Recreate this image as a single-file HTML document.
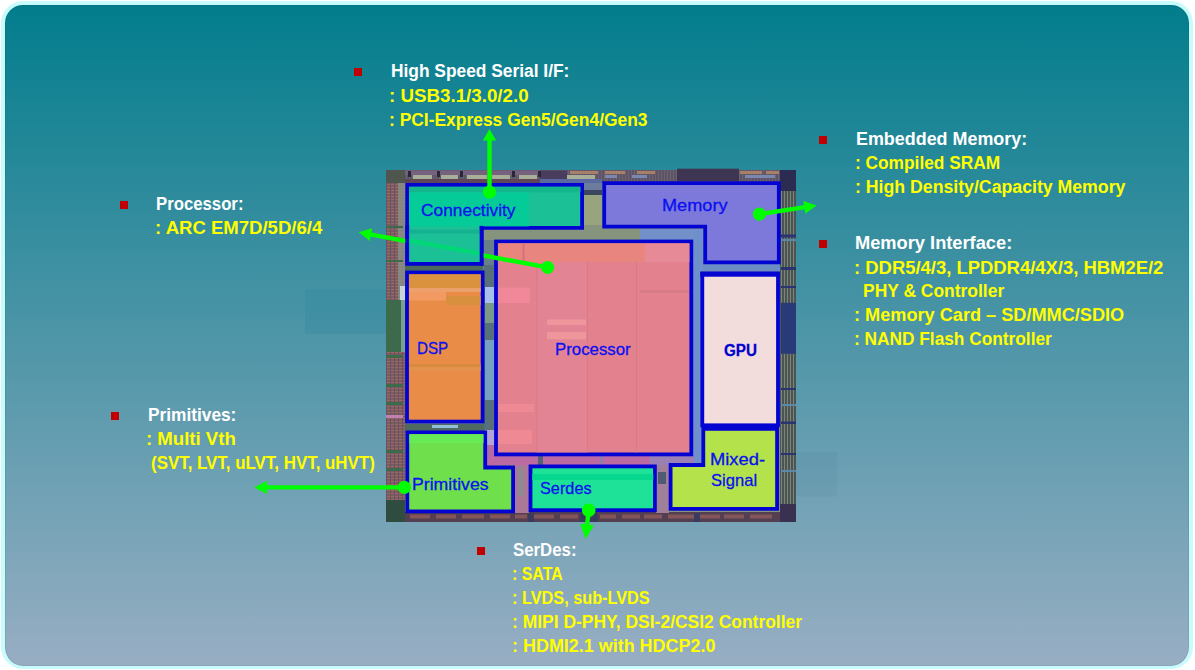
<!DOCTYPE html>
<html><head><meta charset="utf-8">
<style>
html,body{margin:0;padding:0;background:#fff;width:1195px;height:670px;overflow:hidden;}
body{position:relative;font-family:"Liberation Sans",sans-serif;}
.frame{position:absolute;left:1px;top:1px;width:1192px;height:668px;box-sizing:border-box;border:4px solid #c8fcfc;border-bottom-width:3px;border-radius:22px;box-shadow:inset 0 0 0 1px rgba(0,20,40,0.08);
background:linear-gradient(to bottom,#027d8c 0px,#98aec3 661px);}
.t{position:absolute;white-space:nowrap;font-weight:bold;font-size:18px;line-height:1;transform-origin:0 0;}
.w{color:#fff;}
.y{color:#ffff00;}
.b{position:absolute;width:8px;height:8px;background:#c00000;}
.lbl{position:absolute;white-space:nowrap;font-size:17px;line-height:1;color:#0a10f0;transform-origin:0 0;-webkit-text-stroke:0.3px #0a10f0;}
svg{position:absolute;left:0;top:0;}
</style></head>
<body>
<div class="frame"></div>

<svg width="1195" height="670" viewBox="0 0 1195 670">
  <defs>
    <pattern id="pr" x="0" y="0" width="3" height="4" patternUnits="userSpaceOnUse">
      <rect width="3" height="4" fill="#4a5456"/><rect x="1" width="1" height="4" fill="#7c8670"/>
    </pattern>
    <pattern id="pl" x="0" y="0" width="4" height="3" patternUnits="userSpaceOnUse">
      <rect width="4" height="3" fill="#7a5c5a"/><rect x="0" y="1" width="4" height="1" fill="#9a6a60"/><rect x="2" width="1" height="3" fill="#6a5070"/>
    </pattern>
    <pattern id="pt" x="0" y="0" width="3" height="3" patternUnits="userSpaceOnUse">
      <rect width="3" height="3" fill="#5c5566"/><rect x="1" width="1" height="3" fill="#6e6070"/>
    </pattern>
  </defs>
  <!-- faint remnants -->
  <rect x="305" y="289.7" width="81" height="44.1" fill="#00708c" opacity="0.1"/>
  <rect x="796" y="452" width="41" height="44.5" fill="#003050" opacity="0.04"/>
  <!-- die -->
  <rect x="386" y="170" width="410" height="352" fill="#86947e"/>
  <!-- top pad ring -->
  <rect x="386" y="170" width="410" height="13" fill="url(#pt)"/>
  <rect x="405" y="170.5" width="135" height="4.5" fill="#76627e"/>
  <rect x="405" y="179" width="135" height="4" fill="#5e4656"/>
  <rect x="540" y="179" width="62" height="4" fill="#5a6aa0"/>
  <rect x="540" y="170.5" width="27" height="8.5" fill="#4a3c5c"/>
  <g fill="#a8ae98"><rect x="413" y="175" width="19" height="4"/><rect x="441" y="175" width="17" height="4"/><rect x="467" y="175" width="20" height="4"/><rect x="492" y="175" width="18" height="4"/><rect x="519" y="175" width="18" height="4"/><rect x="567" y="175" width="28" height="4"/></g>
  <g fill="#262838"><rect x="408" y="171" width="3" height="6"/><rect x="437" y="171" width="3" height="6"/><rect x="460" y="171" width="3" height="6"/><rect x="488" y="171" width="3" height="6"/><rect x="512" y="171" width="3" height="6"/><rect x="538" y="171" width="3" height="6"/></g>
  <g fill="#a88068"><rect x="570" y="171" width="28" height="3"/><rect x="605" y="171" width="20" height="3"/><rect x="637" y="171" width="18" height="3"/><rect x="740" y="171" width="22" height="3"/><rect x="766" y="171" width="13" height="3"/></g>
  <g fill="#7a88b0"><rect x="605" y="175" width="12" height="3"/><rect x="632" y="175" width="15" height="3"/><rect x="745" y="175" width="30" height="3"/></g>
  <rect x="386" y="170" width="19" height="13" fill="#4e564e"/>
  <rect x="677" y="168.7" width="62" height="12.4" fill="#3d3552"/>
  <rect x="780" y="170" width="16" height="16" fill="#2e2c4e"/>
  <!-- right pad ring -->
  <rect x="780" y="181" width="16" height="331" fill="url(#pr)"/>
  <rect x="780" y="170" width="16" height="21" fill="#2c2c52"/>
  <rect x="781" y="302.8" width="15" height="51" fill="#283a78"/>
  <g fill="#2a3470"><rect x="781" y="234.5" width="15" height="3"/><rect x="781" y="267" width="15" height="3"/><rect x="781" y="286" width="15" height="2"/><rect x="781" y="388" width="15" height="2"/><rect x="781" y="421.5" width="15" height="2.5"/><rect x="781" y="453" width="15" height="2"/><rect x="781" y="504" width="15" height="8"/></g>
  <g fill="#5a88a8"><rect x="781" y="239" width="15" height="2"/><rect x="781" y="404" width="15" height="2"/><rect x="781" y="470" width="15" height="2"/></g>
  <rect x="703" y="264" width="77" height="7.5" fill="#6c8cc4"/>
  <!-- left pad ring -->
  <rect x="386" y="183" width="19" height="339" fill="url(#pl)"/>
  <rect x="398" y="183" width="7" height="117" fill="#8a948a" opacity="0.8"/>
  <rect x="386" y="300" width="17" height="52" fill="#3d6a4a"/>
  <rect x="401" y="300" width="4" height="52" fill="#7aa090"/>
  <g fill="#3d6a4a"><rect x="386" y="355" width="17" height="3"/><rect x="386" y="384" width="17" height="3"/><rect x="386" y="402" width="17" height="3"/><rect x="386" y="450" width="17" height="3"/><rect x="386" y="468" width="17" height="3"/><rect x="386" y="226" width="17" height="2"/><rect x="386" y="260" width="17" height="2"/></g>
  <rect x="386" y="415" width="17" height="3" fill="#c080b0"/>
  <rect x="386" y="500" width="19" height="22" fill="#2e4c40"/>
  <rect x="400" y="286" width="5" height="14" fill="#c8d4d8"/>
  <!-- bottom pad ring -->
  <rect x="386" y="512" width="410" height="10" fill="#533f50"/>
  <g fill="#84565a"><rect x="410" y="514.5" width="20" height="4"/><rect x="436" y="514.5" width="20" height="4"/><rect x="462" y="514.5" width="22" height="4"/><rect x="490" y="514.5" width="20" height="4"/><rect x="515" y="514.5" width="12" height="4"/><rect x="534" y="514.5" width="20" height="4"/><rect x="560" y="514.5" width="18" height="4"/><rect x="600" y="514.5" width="16" height="4"/><rect x="622" y="514.5" width="18" height="4"/><rect x="644" y="514.5" width="18" height="4"/><rect x="668" y="514.5" width="26" height="4"/><rect x="700" y="514.5" width="20" height="4"/><rect x="724" y="514.5" width="20" height="4"/><rect x="750" y="514.5" width="22" height="4"/></g>
  <g fill="#3a3a5c"><rect x="528" y="513" width="6" height="9"/><rect x="580" y="513" width="18" height="9"/><rect x="694" y="513" width="6" height="9"/></g>
  <rect x="386" y="500" width="19" height="22" fill="#2e4c40"/>
  <rect x="780" y="504" width="16" height="18" fill="#3a3050"/>
  <!-- interior gaps -->
  <rect x="405" y="265" width="79" height="6" fill="#4c6a5c"/>
  <rect x="405" y="424" width="82" height="7" fill="#4f6a62"/>
  <rect x="432" y="425" width="26" height="3" fill="#92c0d6"/>
  <rect x="483" y="240" width="11" height="30" fill="#687e88"/>
  <rect x="484" y="265" width="10" height="166" fill="#58707a"/>
  <rect x="485" y="287" width="9" height="16" fill="#a8c0ec"/>
  <rect x="485" y="303" width="9" height="20" fill="#7a9a88"/>
  <rect x="485" y="340" width="9" height="60" fill="#74a2c0"/>
  <rect x="485" y="430" width="10" height="15" fill="#b4a4d4"/>
  <rect x="584" y="183" width="18" height="8" fill="#6c7c9c"/><rect x="584" y="190" width="18" height="5" fill="#3c465e"/><rect x="584" y="195" width="18" height="30" fill="#98a47e"/>
  <rect x="640" y="229" width="65" height="11" fill="#7490c8"/>
  <rect x="693" y="229" width="10" height="236" fill="#7090cc"/>
  <rect x="487" y="445" width="8" height="21" fill="#b46aa2"/>
  <rect x="487" y="456" width="207" height="9" fill="#bc6aa4"/>
  <rect x="538" y="456" width="5" height="9" fill="#56607a"/>
  <rect x="600" y="456" width="3" height="9" fill="#8a80b0"/>
  <rect x="650" y="456" width="44" height="9" fill="#9a80b4"/>
  <rect x="514" y="465" width="15" height="48" fill="#aa7898"/>
  <rect x="518" y="468" width="5" height="28" fill="#8c8c90"/>
  <rect x="656" y="465" width="13" height="48" fill="#a08098"/>
  <rect x="658" y="472" width="8" height="12" fill="#505a70"/>
  <!-- blocks -->
  <g stroke="#0303d2" stroke-width="3.8" stroke-linejoin="miter">
    <polygon points="407.2,184.9 582.1,184.9 582.1,227.8 481.6,227.8 481.6,263.8 407.2,263.8" fill="#1bc096"/>
    <polygon points="604.2,183.1 778.8,183.1 778.8,262.4 705.2,262.4 705.2,226.6 604.2,226.6" fill="#7d79da"/>
    <rect x="496" y="241.5" width="195.3" height="212.9" fill="#e3818f"/>
    <rect x="407" y="272.5" width="75.6" height="149.1" fill="#e88c48"/>
    <rect x="702.3" y="273.8" width="75.7" height="151.5" fill="#f2dddc"/>
    <polygon points="703.3,428.8 777.1,428.8 777.1,508.9 670.6,508.9 670.6,465 703.3,465" fill="#b4e24a"/>
    <polygon points="407.3,432.3 485.2,432.3 485.2,467.5 513.1,467.5 513.1,511.4 407.3,511.4" fill="#6fe04c"/>
    <rect x="530.5" y="466.4" width="124.4" height="43.8" fill="#1de297"/>
  </g>
  <!-- block texture -->
  <g stroke="none">
    <rect x="700.4" y="271.5" width="79.5" height="5.2" fill="#0303d2"/>
    <rect x="498" y="243.3" width="147" height="18.7" fill="#e9857f"/>
    <rect x="645" y="243.3" width="44.4" height="18.7" fill="#e58a96"/>
    <rect x="522.5" y="243.3" width="2" height="18.7" fill="#d07484"/>
    <rect x="537" y="262" width="50" height="190.5" fill="#e3879a" opacity="0.6"/>
    <rect x="536.5" y="262" width="1" height="190.5" fill="#d87a88"/>
    <rect x="587" y="262" width="1" height="190.5" fill="#d87a88"/>
    <rect x="636" y="262" width="1" height="190.5" fill="#d87a88"/>
    <rect x="498" y="287.6" width="32" height="15.6" fill="#f0889a"/>
    <rect x="547" y="319.5" width="39" height="5.5" fill="#ee969c"/>
    <rect x="547" y="332" width="39" height="7.3" fill="#ee969c"/>
    <rect x="498" y="404" width="36" height="8" fill="#ef8a94"/>
    <rect x="498" y="430" width="34" height="14" fill="#ef8a94"/>
    <rect x="640" y="290" width="49" height="3" fill="#d87c8a"/>
    <rect x="409" y="274.3" width="71.7" height="13.5" fill="#da923e"/>
    <rect x="409" y="288" width="71.7" height="4" fill="#eca06c"/>
    <rect x="409" y="292" width="37" height="8.5" fill="#f29a62"/>
    <rect x="446" y="296" width="34.7" height="9" fill="#d8903e"/>
    <rect x="409" y="364" width="71.7" height="3" fill="#d88a3c"/>
    <rect x="409" y="367" width="71.7" height="4" fill="#e4924e"/>
    <rect x="409" y="186.8" width="171.4" height="5.6" fill="#14b48c"/>
    <rect x="409" y="192.4" width="119.8" height="34" fill="#05cb98"/>
    <rect x="532.3" y="474" width="121" height="6" fill="#06d890"/>
    <rect x="409.5" y="434.2" width="74" height="9" fill="#66ea56"/>
  </g>
  <!-- arrows -->
  <g fill="#00ff00" stroke="#00ff00" stroke-width="4.4">
    <line x1="489.5" y1="192.2" x2="489.5" y2="139.5"/>
    <polygon stroke="none" points="489.5,129.0 496.2,140.5 482.8,140.5"/>
    <circle stroke="none" cx="489.5" cy="192.2" r="6.6"/>
    <line x1="547.6" y1="267.4" x2="370.0" y2="234.4"/>
    <polygon stroke="none" points="358.7,232.3 372.2,228.2 369.8,240.9"/>
    <circle stroke="none" cx="547.6" cy="267.4" r="6.5"/>
    <line x1="759.4" y1="214.1" x2="805.2" y2="207.1"/>
    <polygon stroke="none" points="816.6,205.4 805.2,213.7 803.3,200.9"/>
    <circle stroke="none" cx="759.4" cy="214.1" r="6.6"/>
    <line x1="404.3" y1="487.4" x2="266.0" y2="487.4"/>
    <polygon stroke="none" points="254.2,487.4 267.0,480.8 267.0,494.0"/>
    <circle stroke="none" cx="404.3" cy="487.4" r="6.6"/>
    <line x1="588.7" y1="510.3" x2="587.0" y2="525.5"/>
    <polygon stroke="none" points="585.5,538.9 580.3,523.7 594.0,525.3"/>
    <circle stroke="none" cx="588.7" cy="510.3" r="6.8"/>
  </g>
  <!-- connectivity overlay over processor line -->
  <rect x="409" y="229.6" width="71" height="32.3" fill="#1bc096"/>
  <rect x="409" y="229.6" width="71" height="4" fill="#14b290"/>
  <line x1="480" y1="253.7" x2="409" y2="240.5" stroke="#00d878" stroke-width="4.4"/>
  <rect x="405.3" y="225" width="3.8" height="40" fill="#0303d2"/>
  <rect x="479.7" y="225.9" width="3.8" height="39.8" fill="#0303d2"/>
</svg>

<!-- block labels -->
<div class="lbl" style="left:421.0px;top:201.6px;transform:scaleX(1.021);">Connectivity</div>
<div class="lbl" style="left:662.1px;top:196.8px;transform:scaleX(1.067);">Memory</div>
<div class="lbl" style="left:417.0px;top:339.7px;transform:scaleX(0.894);">DSP</div>
<div class="lbl" style="left:554.6px;top:340.5px;transform:scaleX(0.989);">Processor</div>
<div class="lbl" style="left:723.8px;top:342.9px;font-weight:bold;font-size:16px;color:#0000c0;transform:scaleX(0.95);">GPU</div>
<div class="lbl" style="left:710.3px;top:451.2px;transform:scaleX(1.079);">Mixed-</div>
<div class="lbl" style="left:710.6px;top:471.5px;transform:scaleX(0.976);">Signal</div>
<div class="lbl" style="left:412.3px;top:475.8px;transform:scaleX(1.039);">Primitives</div>
<div class="lbl" style="left:540.3px;top:480.0px;transform:scaleX(0.958);">Serdes</div>

<!-- bullets -->
<div class="b" style="left:354px;top:68px;"></div>
<div class="b" style="left:120px;top:201px;"></div>
<div class="b" style="left:111px;top:412px;"></div>
<div class="b" style="left:819.3px;top:136px;"></div>
<div class="b" style="left:819px;top:240px;"></div>
<div class="b" style="left:477px;top:547px;"></div>

<!-- texts: top = baseline - ascent(0.905*18=16.3) -->
<div class="t w" style="left:390.5px;top:61.7px;transform:scaleX(0.964);">High Speed Serial I/F:</div>
<div class="t y" style="left:388.9px;top:86.5px;transform:scaleX(1.041);">: USB3.1/3.0/2.0</div>
<div class="t y" style="left:389.1px;top:110.5px;transform:scaleX(0.968);">: PCI-Express Gen5/Gen4/Gen3</div>

<div class="t w" style="left:155.7px;top:194.5px;transform:scaleX(0.93);">Processor:</div>
<div class="t y" style="left:155.1px;top:218.8px;transform:scaleX(1.03);">: ARC EM7D/5D/6/4</div>

<div class="t w" style="left:147.6px;top:406.3px;transform:scaleX(0.96);">Primitives:</div>
<div class="t y" style="left:145.9px;top:430.4px;transform:scaleX(1.032);">: Multi Vth</div>
<div class="t y" style="left:151.4px;top:454.2px;transform:scaleX(0.939);">(SVT, LVT, uLVT, HVT, uHVT)</div>

<div class="t w" style="left:855.7px;top:129.6px;transform:scaleX(0.995);">Embedded Memory:</div>
<div class="t y" style="left:854.9px;top:154.1px;transform:scaleX(0.961);">: Compiled SRAM</div>
<div class="t y" style="left:854.8px;top:178.2px;transform:scaleX(0.983);">: High Density/Capacity Memory</div>

<div class="t w" style="left:854.6px;top:234.1px;transform:scaleX(1.014);">Memory Interface:</div>
<div class="t y" style="left:853.5px;top:258.7px;transform:scaleX(1.024);">: DDR5/4/3, LPDDR4/4X/3, HBM2E/2</div>
<div class="t y" style="left:862.8px;top:282.2px;transform:scaleX(0.969);">PHY &amp; Controller</div>
<div class="t y" style="left:853.6px;top:305.7px;transform:scaleX(1.008);">: Memory Card &ndash; SD/MMC/SDIO</div>
<div class="t y" style="left:853.7px;top:329.5px;transform:scaleX(0.96);">: NAND Flash Controller</div>

<div class="t w" style="left:512.8px;top:540.5px;transform:scaleX(0.933);">SerDes:</div>
<div class="t y" style="left:512.0px;top:565.2px;transform:scaleX(0.884);">: SATA</div>
<div class="t y" style="left:511.9px;top:588.8px;transform:scaleX(0.904);">: LVDS, sub-LVDS</div>
<div class="t y" style="left:511.8px;top:613.0px;transform:scaleX(0.97);">: MIPI D-PHY, DSI-2/CSI2 Controller</div>
<div class="t y" style="left:511.8px;top:636.5px;transform:scaleX(0.997);">: HDMI2.1 with HDCP2.0</div>

</body></html>
